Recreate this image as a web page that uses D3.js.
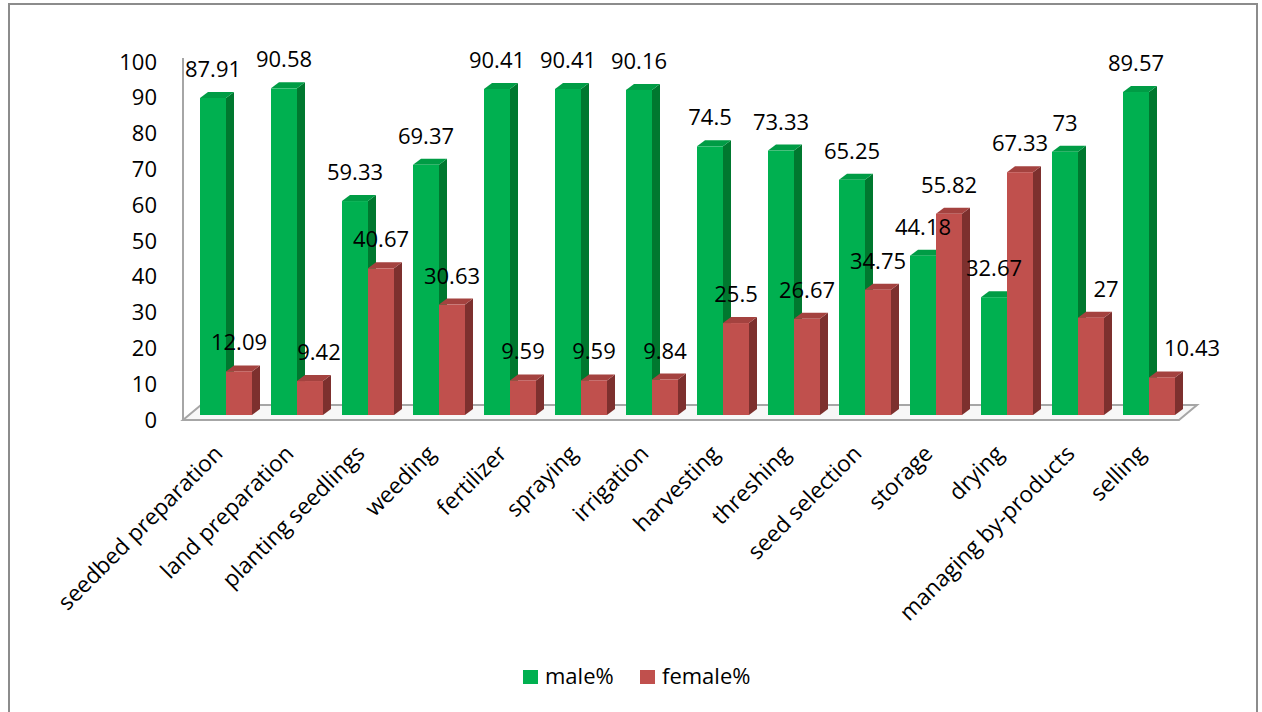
<!DOCTYPE html>
<html>
<head>
<meta charset="utf-8">
<script src="https://cdn.jsdelivr.net/npm/d3@7/dist/d3.min.js"></script>
<style>
  html, body { margin: 0; padding: 0; background: #ffffff; }
  svg text { font-family: "Open Sans", "DejaVu Sans", sans-serif; fill: #000; }
</style>
</head>
<body>
<svg id="chart" width="1262" height="712"></svg>
<script>
// Share of each post-harvest / field activity done by men and women (%)
const categories = [
  "seedbed preparation", "land preparation", "planting seedlings", "weeding",
  "fertilizer", "spraying", "irrigation", "harvesting", "threshing",
  "seed selection", "storage", "drying", "managing by-products", "selling"
];
const maleValues = [87.91, 90.58, 59.33, 69.37, 90.41, 90.41, 90.16, 74.5, 73.33, 65.25, 44.18, 32.67, 73, 89.57];
const femaleValues = [12.09, 9.42, 40.67, 30.63, 9.59, 9.59, 9.84, 25.5, 26.67, 34.75, 55.82, 67.33, 27, 10.43];
const seriesNames = ["male%", "female%"];
const yTicks = [0, 10, 20, 30, 40, 50, 60, 70, 80, 90, 100];

const series = [
  { key: seriesNames[0], values: maleValues,   front: "#00B050", side: "#00782F", top: "#009C45" },
  { key: seriesNames[1], values: femaleValues, front: "#C0504D", side: "#7D302E", top: "#A4423F" }
];

// a few data labels sit to the right of their bar
const labelNudge = { "female%|land preparation": 9, "female%|managing by-products": 15, "female%|selling": 30 };

const svg = d3.select("#chart");

// outer frame
svg.append("rect")
  .attr("x", 9).attr("y", 4).attr("width", 1248).attr("height", 740)
  .attr("fill", "#ffffff").attr("stroke", "#8c8c8c").attr("stroke-width", 2);

// category band scale: one group of two bars per activity
const x = d3.scaleBand().domain(categories)
  .range([190.5, 1184.5]).paddingInner(19 / 71).paddingOuter(9.5 / 71);
const xs = d3.scaleBand().domain(seriesNames).range([0, x.bandwidth()]).padding(0);

// value scale for the bars (middle of the floor depth) and for the front axis
const y = d3.scaleLinear().domain([0, 100]).range([415, 54.4]);
const yAxisScale = d3.scaleLinear().domain([0, 100]).range([420, 62]);

const depthX = 8, depthY = -6;   // bar depth offset
const floorDX = 18, floorDY = -15;

// floor
const fl = [183, 420], fr = [1179, 420];
svg.append("polygon")
  .attr("points", [fl, fr, [fr[0] + floorDX, fr[1] + floorDY], [fl[0] + floorDX, fl[1] + floorDY]].map(p => p.join(",")).join(" "))
  .attr("fill", "#f7f7f7").attr("stroke", "#a6a6a6").attr("stroke-width", 2);

// vertical axis line
svg.append("line")
  .attr("x1", 183).attr("x2", 183).attr("y1", yAxisScale(0)).attr("y2", yAxisScale(100) - 4)
  .attr("stroke", "#a6a6a6").attr("stroke-width", 2);

// y tick labels
const yAxis = d3.axisLeft(yAxisScale).tickValues(yTicks).tickSize(0).tickPadding(0).tickFormat(d3.format("d"));
const yg = svg.append("g").attr("transform", "translate(157,0)").call(yAxis);
yg.select(".domain").remove();
yg.selectAll("text").style("font-size", "22px").style("font-family", "'Open Sans', sans-serif").attr("fill", "#000");

// bars
const barsG = svg.append("g");
categories.forEach((cat, i) => {
  series.forEach(s => {
    const v = s.values[i];
    const x0 = x(cat) + xs(s.key);
    const x1 = x0 + xs.bandwidth();
    const yt = y(v), yb = y(0);
    const g = barsG.append("g");
    // right side face
    g.append("polygon")
      .attr("points", [[x1, yb], [x1 + depthX, yb + depthY], [x1 + depthX, yt + depthY], [x1, yt]].map(p => p.join(",")).join(" "))
      .attr("fill", s.side);
    // top face
    g.append("polygon")
      .attr("points", [[x0, yt], [x1, yt], [x1 + depthX, yt + depthY], [x0 + depthX, yt + depthY]].map(p => p.join(",")).join(" "))
      .attr("fill", s.top);
    // front face
    g.append("rect")
      .attr("x", x0).attr("y", yt).attr("width", xs.bandwidth()).attr("height", yb - yt)
      .attr("fill", s.front);
  });
});

// data labels
const labelsG = svg.append("g");
categories.forEach((cat, i) => {
  series.forEach(s => {
    const v = s.values[i];
    const cx = x(cat) + xs(s.key) + xs.bandwidth() / 2 + (labelNudge[s.key + "|" + cat] || 0);
    labelsG.append("text")
      .attr("x", cx).attr("y", y(v) - 21)
      .attr("text-anchor", "middle")
      .style("font-size", "22px")
      .text(String(v));
  });
});

// category labels, rotated
const catG = svg.append("g");
categories.forEach(cat => {
  const cx = x(cat) + x.bandwidth() / 2 - 2;
  catG.append("text")
    .attr("transform", `translate(${cx},455) rotate(-45)`)
    .attr("text-anchor", "end")
    .style("font-size", "22.6px")
    .text(cat);
});

// legend
const legend = svg.append("g");
const legendItems = [
  { key: seriesNames[0], color: series[0].front, x: 523 },
  { key: seriesNames[1], color: series[1].front, x: 640 }
];
legendItems.forEach(it => {
  legend.append("rect").attr("x", it.x).attr("y", 670).attr("width", 15).attr("height", 14).attr("fill", it.color);
  legend.append("text").attr("x", it.x + 22).attr("y", 684).style("font-size", "22px").text(it.key);
});
</script>
</body>
</html>
